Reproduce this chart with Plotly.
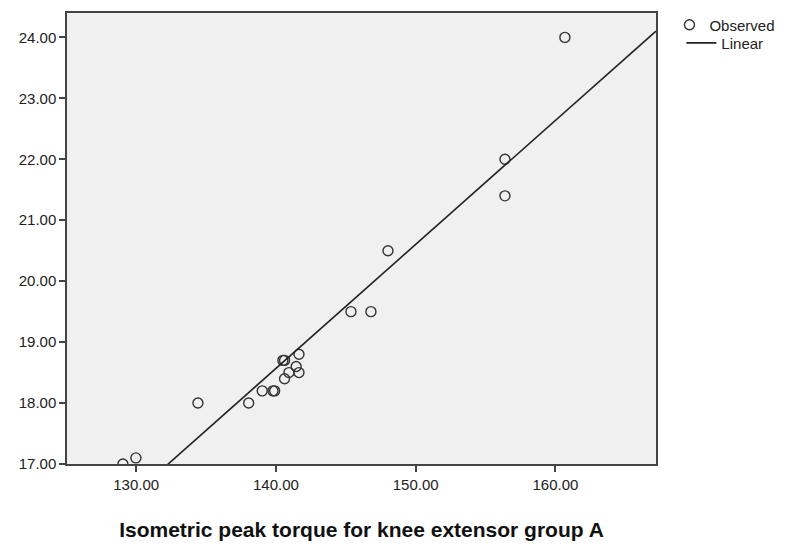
import numpy as np
import plotly.graph_objects as go

torque_a = [129.05, 129.98, 134.42, 138.05, 139.02, 139.79, 139.91, 140.50, 140.62, 141.65,
            141.45, 140.93, 141.65, 140.62, 145.37, 146.80, 148.02, 156.39, 156.39, 160.68]
outcome = [17.0, 17.1, 18.0, 18.0, 18.2, 18.2, 18.2, 18.7, 18.7, 18.8,
           18.6, 18.5, 18.5, 18.4, 19.5, 19.5, 20.5, 22.0, 21.4, 24.0]

x_ticks = [130, 140, 150, 160]
y_ticks = [17, 18, 19, 20, 21, 22, 23, 24]
x_range = [125.05, 167.2]
y_range = [17.0, 24.4]

# Linear fit
b1, b0 = np.polyfit(torque_a, outcome, 1)
fit_x = np.array(x_range)
fit_y = b0 + b1 * fit_x

font_family = "Arial, Liberation Sans, sans-serif"

fig = go.Figure()
fig.add_trace(go.Scatter(
    x=torque_a, y=outcome, mode="markers", name="Observed", legend="legend",
    marker=dict(symbol="circle-open", size=10, color="#333333", line=dict(width=1.4, color="#333333")),
))
fig.add_trace(go.Scatter(
    x=fit_x, y=fit_y, mode="lines", name="Linear", legend="legend2",
    line=dict(color="#222222", width=1.6),
))

fig.update_layout(
    width=795, height=549,
    margin=dict(l=59, r=147, t=5, b=93, autoexpand=False),
    paper_bgcolor="white",
    plot_bgcolor="#F0F0F0",
    font=dict(family=font_family, size=15, color="#222222"),
    showlegend=True,
    legend=dict(xref="container", yref="container", x=0.832, y=0.999,
                xanchor="left", yanchor="top",
                bgcolor="rgba(0,0,0,0)", font=dict(size=15, color="#222222"),
                itemwidth=30),
    legend2=dict(xref="container", yref="container", x=0.847, y=0.966,
                 xanchor="left", yanchor="top",
                 bgcolor="rgba(0,0,0,0)", font=dict(size=15, color="#222222"),
                 itemwidth=30),
)
fig.update_xaxes(
    range=x_range, tickvals=x_ticks, tickformat=".2f",
    showgrid=False, zeroline=False,
    showline=True, mirror=True, linecolor="#444444", linewidth=1.5,
    ticks="outside", ticklen=6, tickwidth=1.5, tickcolor="#444444",
    tickfont=dict(size=15, color="#222222"),
    title=dict(text="Isometric peak torque for knee extensor group A",
               font=dict(size=21, color="#111111", family=font_family, weight="bold"),
               standoff=31),
)
fig.update_yaxes(
    range=y_range, tickvals=y_ticks, tickformat=".2f",
    showgrid=False, zeroline=False,
    showline=True, mirror=True, linecolor="#444444", linewidth=1.5,
    ticks="outside", ticklen=6, tickwidth=1.5, tickcolor="#444444",
    tickfont=dict(size=15, color="#222222"),
)

fig.write_html("out.html")
